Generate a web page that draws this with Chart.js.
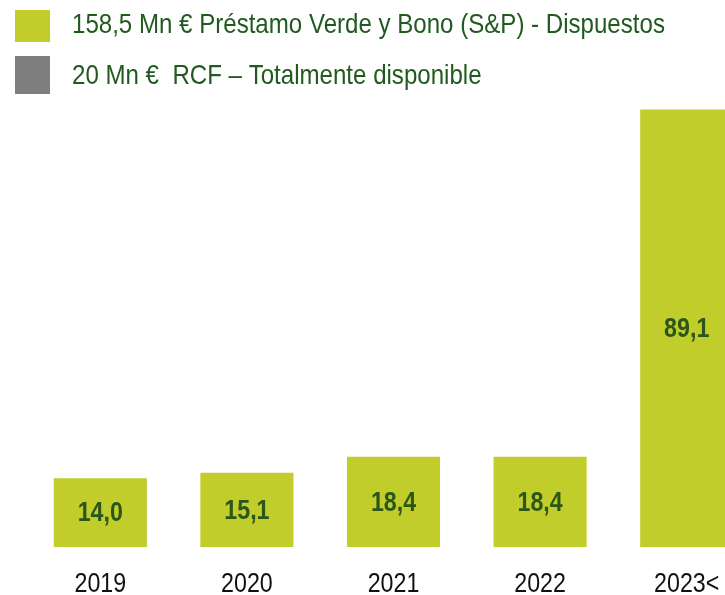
<!DOCTYPE html>
<html>
<head>
<meta charset="utf-8">
<script src="https://cdn.jsdelivr.net/npm/chart.js@4/dist/chart.umd.min.js"></script>
<style>
  html, body { margin: 0; padding: 0; background: #ffffff; overflow: hidden; }
  #wrap { width: 725px; height: 595px; overflow: hidden; position: relative; }
</style>
</head>
<body>
<div id="wrap"><canvas id="c" width="760" height="595"></canvas></div>
<script>
// Maturity profile (Mn €)
const years = ['2019', '2020', '2021', '2022', '2023<'];
const drawnDebt = [14.0, 15.1, 18.4, 18.4, 89.1];
const rcfDebt = [null, null, null, null, null];
const seriesNames = [
  '158,5 Mn € Préstamo Verde y Bono (S&P) - Dispuestos',
  '20 Mn €  RCF – Totalmente disponible'
];

const FAMILY = "'Liberation Sans', Arial, sans-serif";
const CONDENSE = 0.83;          // horizontal squeeze for a narrow look
const LEGEND_CONDENSE = 0.86;
const GREEN = '#c1cd2b';
const GREY = '#7f7f7f';
const TEXT_GREEN = '#215a1e';
const VALUE_GREEN = '#2b5519';

const fmt = v => v.toFixed(1).replace('.', ',');

// Draw text squeezed horizontally around its anchor point
function narrowText(ctx, text, x, y, sx) {
  ctx.save();
  ctx.translate(x, y);
  ctx.scale(sx, 1);
  ctx.fillText(text, 0, 0);
  ctx.restore();
}

// Legend drawn in the top band
const legendPlugin = {
  id: 'topLegend',
  afterDraw(chart) {
    const ctx = chart.ctx;
    const items = [
      { color: GREEN, box: [15, 10, 35, 32], text: seriesNames[0], y: 33 },
      { color: GREY, box: [15, 56, 35, 38], text: seriesNames[1], y: 84 }
    ];
    ctx.save();
    ctx.font = '28px ' + FAMILY;
    ctx.textBaseline = 'alphabetic';
    ctx.textAlign = 'left';
    items.forEach(it => {
      ctx.fillStyle = it.color;
      ctx.fillRect(...it.box);
      ctx.fillStyle = TEXT_GREEN;
      narrowText(ctx, it.text, 72, it.y, LEGEND_CONDENSE);
    });
    ctx.restore();
  }
};

// Value labels inside each bar and category labels under the axis
const labelPlugin = {
  id: 'barLabels',
  afterDatasetsDraw(chart) {
    const ctx = chart.ctx;
    const meta = chart.getDatasetMeta(0);
    const xScale = chart.scales.x;
    ctx.save();
    ctx.textAlign = 'center';

    ctx.font = 'bold 28px ' + FAMILY;
    ctx.fillStyle = VALUE_GREEN;
    ctx.textBaseline = 'middle';
    meta.data.forEach((bar, i) => {
      const v = drawnDebt[i];
      if (v == null) return;
      narrowText(ctx, fmt(v), bar.x, (bar.y + bar.base) / 2 + 1, CONDENSE);
    });

    ctx.font = '28px ' + FAMILY;
    ctx.fillStyle = '#111111';
    ctx.textBaseline = 'alphabetic';
    years.forEach((lab, i) => {
      narrowText(ctx, lab, xScale.getPixelForTick(i), xScale.top + 45, CONDENSE);
    });
    ctx.restore();
  }
};

new Chart(document.getElementById('c'), {
  type: 'bar',
  data: {
    labels: years,
    datasets: [
      { label: seriesNames[0], data: drawnDebt, backgroundColor: GREEN,
        barPercentage: 0.635, categoryPercentage: 1 },
      { label: seriesNames[1], data: rcfDebt, backgroundColor: GREY,
        barPercentage: 0.635, categoryPercentage: 1 }
    ]
  },
  options: {
    responsive: false,
    animation: false,
    devicePixelRatio: 1,
    layout: { padding: { left: 27, right: 0, top: 105, bottom: 0 } },
    plugins: { legend: { display: false }, tooltip: { enabled: false } },
    scales: {
      x: {
        stacked: true,
        grid: { display: false, drawTicks: false },
        border: { display: false },
        ticks: { display: false },
        afterFit(scale) { scale.height = 48; }
      },
      y: { stacked: true, display: false, min: 0, max: 90 }
    }
  },
  plugins: [legendPlugin, labelPlugin]
});
</script>
</body>
</html>
